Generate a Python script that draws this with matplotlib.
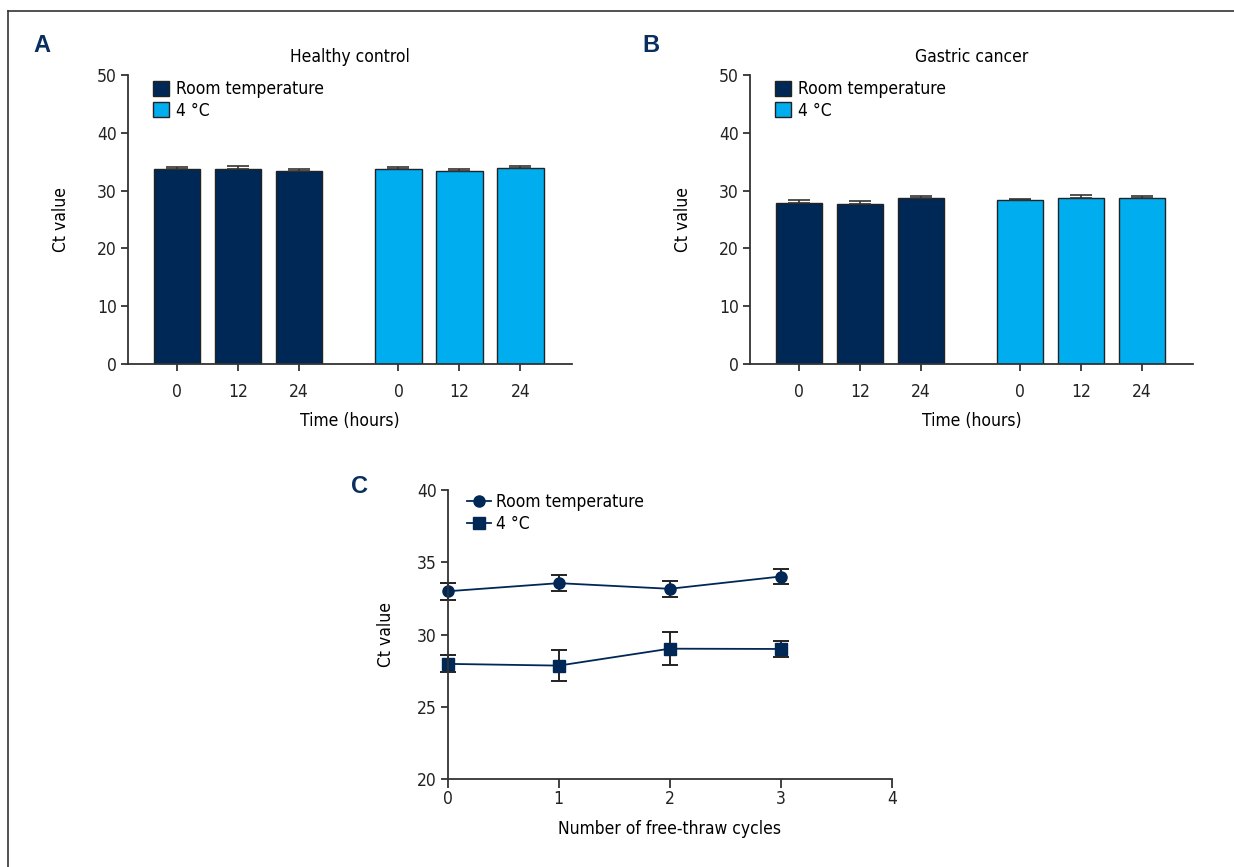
import numpy as np
import matplotlib
matplotlib.use("Agg")
import matplotlib.pyplot as plt
from matplotlib.lines import Line2D
from matplotlib.patches import Patch

plt.rcParams['font.family'] = ['DejaVu Sans']
plt.rcParams['font.stretch'] = 'condensed'
plt.rcParams['font.size'] = 12.5

# Dados dos paineis A e B (Ct value)
horas = ['0', '12', '24']
hc_rt = [33.7, 33.8, 33.4]
hc_rt_err = [0.4, 0.4, 0.4]
hc_4c = [33.7, 33.4, 33.9]
hc_4c_err = [0.4, 0.3, 0.4]
gc_rt = [27.9, 27.7, 28.7]
gc_rt_err = [0.4, 0.5, 0.4]
gc_4c = [28.3, 28.8, 28.8]
gc_4c_err = [0.3, 0.5, 0.3]

# Dados do painel C
ciclos = [0, 1, 2, 3]
ft_rt = [33.0, 33.56, 33.17, 34.02]
ft_rt_err = [0.57, 0.55, 0.55, 0.55]
ft_4c = [27.98, 27.86, 29.03, 29.01]
ft_4c_err = [0.58, 1.07, 1.14, 0.58]

NAVY = '#002856'
AZUL = '#00AEEF'
EIXO = '#333333'
W, H = 1234, 867


def estilo(ax):
    for s in ['top', 'right']:
        ax.spines[s].set_visible(False)
    for s in ['left', 'bottom']:
        ax.spines[s].set_color(EIXO)
        ax.spines[s].set_linewidth(1.3)
    ax.tick_params(colors=EIXO, width=1.3, labelcolor='#222222')


def painel_barras(rect, titulo, rt, rt_err, c4, c4_err):
    ax = fig.add_axes(rect)
    gap = 1.633
    x_rt = np.arange(len(rt))
    x_4c = x_rt + len(rt) - 1 + gap
    ax.bar(x_rt, rt, width=0.76, color=NAVY, edgecolor='#222222', linewidth=1)
    ax.bar(x_4c, c4, width=0.76, color=AZUL, edgecolor='#222222', linewidth=1)
    ax.errorbar(x_rt, rt, yerr=[np.zeros(len(rt)), rt_err], fmt='none',
                ecolor='#333333', elinewidth=1.2, capsize=8, capthick=1.2)
    ax.errorbar(x_4c, c4, yerr=[np.zeros(len(c4)), c4_err], fmt='none',
                ecolor='#333333', elinewidth=1.2, capsize=8, capthick=1.2)
    ax.set_xlim(-0.80, x_4c[-1] + 0.84)
    ax.set_ylim(0, 50)
    ax.set_yticks([0, 10, 20, 30, 40, 50])
    ax.set_xticks(np.concatenate([x_rt, x_4c]))
    ax.set_xticklabels(horas + horas)
    estilo(ax)
    ax.tick_params(axis='x', length=5, pad=9)
    ax.tick_params(axis='y', length=5, pad=3)
    ax.set_title(titulo, pad=9, fontsize=12.5)
    ax.set_ylabel('Ct value')
    ax.yaxis.set_label_coords(-0.131, 0.5)
    ax.set_xlabel('Time (hours)')
    ax.xaxis.set_label_coords(0.5, -0.165)
    handles = [Patch(facecolor=NAVY, edgecolor='#222222', label='Room temperature'),
               Patch(facecolor=AZUL, edgecolor='#222222', label='4 °C')]
    ax.legend(handles=handles, loc='upper left', bbox_to_anchor=(0.045, 1.0),
              frameon=False, handlelength=0.92, handleheight=0.92,
              handletextpad=0.4, labelspacing=0.2, borderaxespad=0,
              borderpad=0.3, fontsize=12.5)
    return ax


fig = plt.figure(figsize=(W / 100, H / 100), dpi=100)

painel_barras([128 / W, 1 - 364 / H, 443.7 / W, 289 / H], 'Healthy control',
              hc_rt, hc_rt_err, hc_4c, hc_4c_err)
painel_barras([750 / W, 1 - 364 / H, 443.3 / W, 289 / H], 'Gastric cancer',
              gc_rt, gc_rt_err, gc_4c, gc_4c_err)

# Painel C
axc = fig.add_axes([447.7 / W, 1 - 779.3 / H, 444 / W, 289.3 / H])
for vals, errs, m, s, lab in [(ft_rt, ft_rt_err, 'o', 8, 'Room temperature'),
                              (ft_4c, ft_4c_err, 's', 9, '4 °C')]:
    ln, caps, bars = axc.errorbar(ciclos, vals, yerr=errs, color=NAVY, marker=m,
                                  markersize=s, linewidth=1.3, ecolor='#222222',
                                  elinewidth=1.4, capsize=6, capthick=1.4, label=lab)
    ln.set_clip_on(False)
    for c in caps:
        c.set_clip_on(False)
    for b in bars:
        b.set_clip_on(False)
axc.set_xlim(0, 4)
axc.set_ylim(20, 40)
axc.set_xticks([0, 1, 2, 3, 4])
axc.set_yticks([20, 25, 30, 35, 40])
estilo(axc)
axc.tick_params(axis='x', length=6.5, pad=1)
axc.tick_params(axis='y', length=5, pad=3)
axc.set_ylabel('Ct value')
axc.yaxis.set_label_coords(-0.119, 0.5)
axc.set_xlabel('Number of free-thraw cycles')
axc.xaxis.set_label_coords(0.5, -0.14)
l = ['Room temperature', '4 °C']
h = [Line2D([], [], color=NAVY, marker=m, markersize=s, linewidth=1.3)
     for m, s in [('o', 8), ('s', 9)]]
axc.legend(h, l, loc='upper left', bbox_to_anchor=(0.035, 1.0), frameon=False,
           handlelength=1.4, handletextpad=0.3, labelspacing=0.2,
           borderaxespad=0, borderpad=0.2, fontsize=12.5)

# Letras dos paineis
for letra, px, py in [('A', 42, 45), ('B', 651, 45), ('C', 359, 486)]:
    fig.text(px / W, 1 - py / H, letra, color='#0A2F5E', fontsize=17,
             fontweight='bold', family=['Liberation Sans', 'DejaVu Sans'],
             stretch='normal', ha='center', va='center')

# Moldura (topo e esquerda)
fig.add_artist(Line2D([8 / W, 1], [1 - 11 / H, 1 - 11 / H], color='#333333', linewidth=1.2))
fig.add_artist(Line2D([8 / W, 8 / W], [0, 1 - 11 / H], color='#333333', linewidth=1.2))

fig.savefig('out.png', dpi=100)
